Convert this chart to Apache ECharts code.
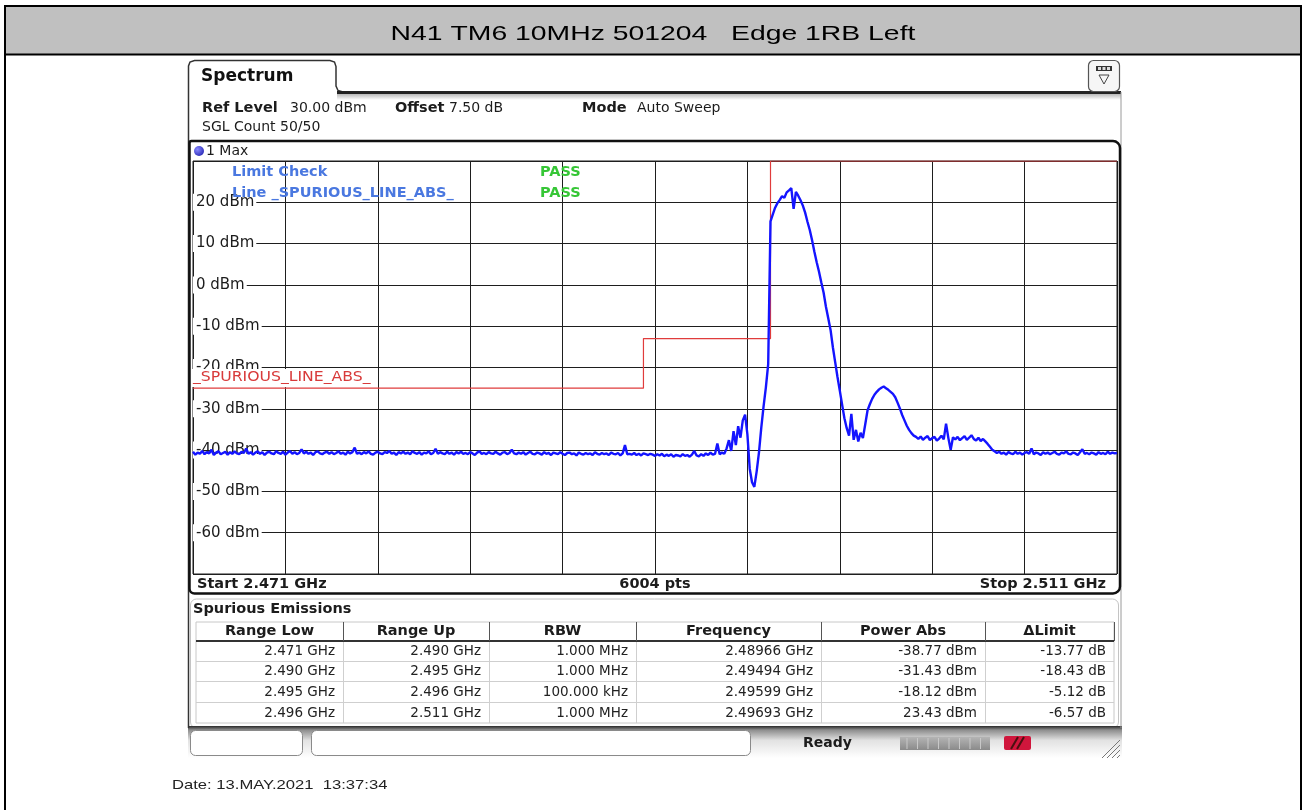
<!DOCTYPE html>
<html><head><meta charset="utf-8">
<script src="https://cdn.jsdelivr.net/npm/echarts@6/dist/echarts.min.js"></script>
<style>html,body{margin:0;padding:0;background:#fff}#c{width:1304px;height:810px}</style>
</head><body><div id="c"></div>
<script>
// ---------------- data ----------------
const titleText = 'N41 TM6 10MHz 501204   Edge 1RB Left';
const freqStartGHz = 2.471;
const freqStopGHz = 2.511;
const traceStepGHz = 0.0001; // sweep point spacing of the sampled trace
const traceLevels = [
-40.4,-41.1,-40.6,-40.9,-40.2,-41.0,-40.5,-40.8,-39.9,-41.2,
-40.6,-40.3,-41.0,-40.7,-40.4,-41.1,-40.5,-40.9,-40.3,-40.8,
-41.0,-40.4,-40.7,-39.6,-40.9,-40.5,-41.1,-40.6,-40.3,-40.9,
-40.5,-41.2,-40.6,-40.4,-40.8,-41.0,-40.3,-40.7,-40.9,-40.4,
-41.1,-40.6,-40.2,-40.9,-40.5,-41.0,-40.7,-39.8,-40.8,-40.4,
-40.9,-40.6,-41.2,-40.5,-40.3,-40.8,-41.0,-40.6,-40.4,-40.9,
-40.5,-41.0,-40.7,-40.3,-40.9,-40.6,-41.1,-40.4,-40.8,-40.5,
-39.4,-40.9,-40.6,-41.0,-40.5,-40.8,-40.3,-40.9,-41.1,-40.6,
-40.4,-40.8,-41.0,-40.5,-40.7,-40.2,-40.9,-40.6,-41.2,-40.5,
-40.8,-40.4,-40.9,-40.6,-41.0,-40.3,-40.7,-40.9,-40.5,-41.1,
-40.6,-40.8,-40.3,-41.0,-40.7,-39.7,-40.9,-40.5,-40.8,-41.0,
-40.4,-40.9,-40.6,-41.1,-40.5,-40.8,-40.4,-40.9,-40.7,-41.0,
-40.5,-40.8,-41.2,-40.6,-40.3,-40.9,-40.7,-41.0,-40.5,-40.8,
-40.9,-40.4,-40.8,-41.1,-40.6,-40.5,-41.0,-40.7,-39.9,-40.8,
-41.0,-40.6,-40.9,-40.5,-41.1,-40.7,-40.4,-40.9,-41.0,-40.6,
-40.8,-41.1,-40.5,-40.9,-40.7,-41.2,-40.6,-40.8,-41.0,-40.5,
-40.9,-41.2,-40.7,-40.6,-41.0,-40.8,-41.3,-40.6,-40.9,-41.1,
-40.7,-41.0,-40.8,-41.2,-40.5,-40.9,-41.1,-40.7,-41.0,-40.8,
-41.2,-40.6,-40.9,-41.0,-40.7,-41.3,-40.8,-38.8,-41.0,-40.9,
-41.1,-40.7,-41.2,-40.9,-41.3,-40.8,-41.0,-41.2,-40.9,-41.1,
-41.4,-41.0,-41.3,-40.9,-41.5,-41.1,-41.4,-41.0,-41.6,-41.2,
-41.3,-41.5,-41.0,-41.4,-41.2,-41.6,-41.1,-40.2,-41.3,-41.5,
-41.0,-41.4,-40.8,-41.2,-40.6,-41.1,-40.9,-38.4,-41.0,-40.6,
-40.9,-39.6,-37.6,-40.2,-35.4,-38.8,-34.2,-37.0,-32.8,-31.4,
-36.2,-44.5,-47.8,-48.9,-45.2,-40.6,-34.6,-29.4,-24.8,-19.2,
15.4,17.1,18.7,19.8,20.6,21.5,21.1,22.4,22.9,23.43,
18.4,22.5,21.6,20.5,19.2,17.5,15.3,13.3,10.8,8.0,
5.5,3.2,0.6,-1.9,-5.3,-8.1,-10.9,-15.1,-18.7,-22.3,
-25.6,-29.0,-32.3,-34.7,-36.5,-31.2,-37.5,-35.1,-37.9,-35.8,
-37.1,-33.8,-30.4,-28.9,-27.6,-26.6,-25.9,-25.3,-24.9,-24.6,
-25.0,-25.4,-25.9,-26.4,-27.2,-28.5,-29.9,-31.5,-32.8,-34.1,
-35.1,-35.9,-36.5,-36.8,-37.3,-36.7,-37.5,-37.0,-36.6,-37.6,
-37.1,-36.8,-37.7,-37.2,-36.5,-37.4,-33.6,-37.1,-39.9,-36.9,
-37.4,-36.8,-37.6,-37.1,-36.6,-37.5,-37.0,-36.4,-37.3,-37.7,
-37.0,-37.8,-37.3,-37.9,-38.5,-39.2,-39.9,-40.3,-40.7,-40.4,
-40.9,-40.6,-41.1,-40.5,-40.8,-41.0,-40.4,-40.9,-40.6,-41.1,
-40.7,-40.5,-40.9,-39.6,-41.0,-40.6,-40.8,-41.2,-40.5,-40.9,
-40.6,-41.0,-40.7,-40.4,-40.9,-41.1,-40.6,-40.8,-40.3,-40.9,
-41.0,-40.6,-40.8,-41.2,-40.5,-39.8,-40.9,-40.7,-41.0,-40.6,
-40.8,-41.1,-40.5,-40.9,-40.7,-41.0,-40.4,-40.9,-40.6,-40.8,
-40.7
];
const limitFreqGHz = [2.471, 2.4905, 2.4905, 2.496, 2.496, 2.511];
const limitLevelDbm = [-25, -25, -13, -13, 30, 30];
const yMinDbm = -70, yMaxDbm = 30, yStepDbm = 10;
const xDivisions = 10;
const tableHeaders = ['Range Low', 'Range Up', 'RBW', 'Frequency', 'Power Abs', '\u0394Limit'];
const rangeLow   = ['2.471 GHz', '2.490 GHz', '2.495 GHz', '2.496 GHz'];
const rangeUp    = ['2.490 GHz', '2.495 GHz', '2.496 GHz', '2.511 GHz'];
const rbw        = ['1.000 MHz', '1.000 MHz', '100.000 kHz', '1.000 MHz'];
const peakFreq   = ['2.48966 GHz', '2.49494 GHz', '2.49599 GHz', '2.49693 GHz'];
const powerAbs   = ['-38.77 dBm', '-31.43 dBm', '-18.12 dBm', '23.43 dBm'];
const deltaLimit = ['-13.77 dB', '-18.43 dB', '-5.12 dB', '-6.57 dB'];
const headerInfo = {refLevel: '30.00 dBm', offset: '7.50 dB', mode: 'Auto Sweep', sgl: 'SGL Count 50/50'};
const pointsLabel = '6004 pts';
const dateText = 'Date: 13.MAY.2021  13:37:34';

// ---------------- rendering ----------------
const chart = echarts.init(document.getElementById('c'), null, {renderer: 'canvas', width: 1304, height: 810});
const FONT = 'DejaVu Sans';
function grad(stops, x2, y2) {
  return {type: 'linear', x: 0, y: 0, x2: x2 || 0, y2: y2 == null ? 1 : y2,
    colorStops: stops.map(s => ({offset: s[0], color: s[1]}))};
}
function txt(text, x, y, o) {
  o = o || {};
  return {type: 'text', z: o.z != null ? o.z : 6, silent: true, x: x, y: y, scaleX: o.sx || 1,
    style: {text: text, x: 0, y: 0, fill: o.color || '#1c1c1c', fontFamily: o.family || FONT,
      fontSize: o.size || 15, fontWeight: o.bold ? 'bold' : 'normal',
      textAlign: o.align || 'left', textVerticalAlign: 'middle'}};
}
function line(x1, y1, x2, y2, color, w, z) {
  return {type: 'line', z: z != null ? z : 5, silent: true, shape: {x1: x1, y1: y1, x2: x2, y2: y2},
    style: {stroke: color, lineWidth: w}};
}
function rect(x, y, w, h, o) {
  o = o || {};
  const st = {fill: o.fill || 'none', lineWidth: o.lw || 1};
  if (o.stroke) st.stroke = o.stroke;
  return {type: 'rect', z: o.z != null ? o.z : 1, silent: true, shape: {x: x, y: y, width: w, height: h, r: o.r || 0}, style: st};
}

const traceData = traceLevels.map((v, i) => [freqStartGHz + i * traceStepGHz, v]);
const limitData = limitFreqGHz.map((f, i) => [f, limitLevelDbm[i]]);

const els = [];
// page frame and title bar
els.push(rect(5, 6, 1296, 48, {fill: '#c0c0c0', z: 0}));
els.push(rect(5, 6, 1296, 820, {stroke: '#000', lw: 2, z: 1}));
els.push(line(5, 54.5, 1301, 54.5, '#000', 2, 1));
els.push(txt(titleText, 653, 34, {family: 'Liberation Sans', size: 21, align: 'center', color: '#000', sx: 1.35}));

// tab and window border
els.push({type: 'polyline', z: 2, silent: true,
  shape: {points: [[188.5, 728], [188.5, 66], [190, 62], [194.5, 60.5], [330, 60.5], [334.5, 62], [336, 66.5], [336, 86], [338, 90.5], [343, 92]]},
  style: {fill: 'none', stroke: '#333', lineWidth: 1.5}});
els.push(rect(337, 91, 784, 3, {fill: '#222', z: 2}));
els.push(rect(337, 94, 784, 6, {fill: grad([[0, '#b8b8b8'], [1, '#ffffff']]), z: 1}));
els.push(line(1121, 92, 1121, 728, '#9a9a9a', 1, 2));
els.push(txt('Spectrum', 201, 77, {size: 17, bold: true, color: '#111'}));
// icon button
els.push(rect(1088.5, 60.5, 31, 31, {r: 5, stroke: '#555', fill: '#f6f6f6', lw: 1.2, z: 2}));
els.push(rect(1096, 66, 16, 5, {fill: '#333', z: 3}));
els.push(rect(1098, 67, 3, 3, {fill: '#ddd', z: 4}));
els.push(rect(1102.5, 67, 3, 3, {fill: '#ddd', z: 4}));
els.push(rect(1107, 67, 3, 3, {fill: '#ddd', z: 4}));
els.push({type: 'polygon', z: 3, silent: true, shape: {points: [[1099, 75], [1109, 75], [1104, 84]]},
  style: {fill: 'none', stroke: '#444', lineWidth: 1}});

// info lines
els.push(txt('Ref Level', 202, 108, {bold: true, size: 14.5}));
els.push(txt(headerInfo.refLevel, 290, 108, {size: 14}));
els.push(txt('Offset', 395, 108, {bold: true, size: 14.5}));
els.push(txt(headerInfo.offset, 449, 108, {size: 14}));
els.push(txt('Mode', 582, 108, {bold: true, size: 14.5}));
els.push(txt(headerInfo.mode, 637, 108, {size: 14}));
els.push(txt(headerInfo.sgl, 202, 127, {size: 14}));

// plot window frame
els.push(rect(189.5, 141, 930.5, 452.5, {r: [2, 7, 7, 5], stroke: '#111', lw: 2.5, z: 3}));
els.push({type: 'circle', z: 6, silent: true, shape: {cx: 199, cy: 151, r: 5},
  style: {fill: {type: 'radial', x: 0.35, y: 0.35, r: 0.8, colorStops: [{offset: 0, color: '#8a8aff'}, {offset: 1, color: '#2020b0'}]}}});
els.push(txt('1 Max', 206, 151, {size: 14}));
els.push(txt('Limit Check', 232, 172, {size: 14.5, bold: true, color: '#4a78e0', z: 10}));
els.push(txt('Line _SPURIOUS_LINE_ABS_', 232, 193, {size: 14.5, bold: true, color: '#4a78e0', z: 10}));
els.push(txt('PASS', 540, 172, {size: 14.5, bold: true, color: '#36c636', z: 10}));
els.push(txt('PASS', 540, 193, {size: 14.5, bold: true, color: '#36c636', z: 10}));
els.push(rect(192, 369, 186, 18, {fill: '#fff', z: 9}));
els.push(txt('_SPURIOUS_LINE_ABS_', 193, 377.5, {size: 14.5, color: '#d83a3a', z: 10, sx: 1.08}));
els.push(txt('Start ' + freqStartGHz.toFixed(3) + ' GHz', 197, 584, {size: 14.5, bold: true}));
els.push(txt(pointsLabel, 655, 584, {size: 14.5, bold: true, align: 'center'}));
els.push(txt('Stop ' + freqStopGHz.toFixed(3) + ' GHz', 1106, 584, {size: 14.5, bold: true, align: 'right'}));

// table
els.push(rect(190.5, 599, 928, 129, {r: 6, stroke: '#c4c4c4', fill: '#fff', lw: 1, z: 1}));
els.push(txt('Spurious Emissions', 193, 609, {size: 14.5, bold: true}));
const colX = [196, 343, 489, 636, 821, 985, 1114];
const rowY = [622, 641, 661, 681, 702, 723];
els.push(rect(196, 622, 918, 101, {stroke: '#c8c8c8', lw: 1, z: 2}));
for (let r = 2; r < rowY.length - 1; r++) els.push(line(196, rowY[r] + 0.5, 1114, rowY[r] + 0.5, '#cfcfcf', 1, 3));
els.push(line(196, rowY[1], 1114, rowY[1], '#333', 2, 4));
for (let c = 1; c < colX.length - 1; c++) {
  els.push(line(colX[c] + 0.5, rowY[0], colX[c] + 0.5, rowY[1], '#555', 1, 4));
  els.push(line(colX[c] + 0.5, rowY[1], colX[c] + 0.5, rowY[5], '#cfcfcf', 1, 3));
}
els.push(line(colX[6] + 0.5, rowY[0], colX[6] + 0.5, rowY[1], '#555', 1, 4));
tableHeaders.forEach((h, c) => els.push(txt(h, (colX[c] + colX[c + 1]) / 2, 631.5, {size: 14.5, bold: true, align: 'center'})));
const tableCols = [rangeLow, rangeUp, rbw, peakFreq, powerAbs, deltaLimit];
tableCols.forEach((col, c) => col.forEach((v, r) => {
  els.push(txt(v, colX[c + 1] - 8, (rowY[r + 1] + rowY[r + 2]) / 2 + 0.5, {size: 13.5, align: 'right', color: '#222'}));
}));

// status bar
els.push(rect(188, 726, 934, 32, {fill: grad([[0, '#2a2a2a'], [0.12, '#8c8c8c'], [0.45, '#e2e2e2'], [1, '#ffffff']]), z: 1}));
els.push(rect(190.5, 730.5, 112, 25, {r: 5, stroke: '#8a8a8a', fill: '#fff', z: 2}));
els.push(rect(311.5, 730.5, 439, 25, {r: 5, stroke: '#8a8a8a', fill: '#fff', z: 2}));
els.push(txt('Ready', 803, 743, {size: 14, bold: true}));
els.push(rect(900, 737, 90, 13, {fill: grad([[0, '#b4b4b4'], [1, '#8a8a8a']]), z: 2}));
for (let k = 0; k < 8; k++) els.push(line(907 + k * 10.5, 738, 907 + k * 10.5, 749, '#c8c8c8', 1, 3));
els.push(rect(1004, 736, 27, 14, {r: 2, fill: '#d0163c', z: 2}));
els.push(line(1011, 749, 1018, 737, '#4a1010', 2, 3));
els.push(line(1017, 749, 1024, 737, '#4a1010', 2, 3));
for (let k = 0; k < 4; k++) els.push(line(1102 + k * 5, 758, 1120, 740 + k * 5, '#777', 1, 3));

els.push(txt(dateText, 172, 785, {family: 'Liberation Sans', size: 13.5, color: '#222', sx: 1.23}));

const option = {
  animation: false,
  backgroundColor: '#ffffff',
  grid: {left: 193, top: 161, width: 924, height: 413, show: true, borderColor: '#1e1e1e', borderWidth: 1, containLabel: false},
  xAxis: [
    {type: 'value', min: freqStartGHz, max: freqStopGHz, show: false},
    {type: 'value', min: 0, max: xDivisions, interval: 1, position: 'bottom',
      axisLine: {show: false}, axisTick: {show: false}, axisLabel: {show: false},
      splitLine: {show: true, lineStyle: {color: '#1e1e1e', width: 1}}}
  ],
  yAxis: {type: 'value', min: yMinDbm, max: yMaxDbm, interval: yStepDbm,
    axisLine: {show: false}, axisTick: {show: false},
    splitLine: {show: true, lineStyle: {color: '#1e1e1e', width: 1}},
    axisLabel: {inside: true, margin: 0, showMinLabel: false, showMaxLabel: false,
      formatter: v => v + ' dBm', color: '#1c1c1c', fontFamily: FONT, fontSize: 15,
      backgroundColor: '#fff', padding: [1, 2, 1, 3]}},
  series: [
    {type: 'line', name: 'Limit', xAxisIndex: 0, data: limitData, showSymbol: false, z: 3,
      lineStyle: {color: '#e03c3c', width: 1.2}, silent: true},
    {type: 'line', name: '1 Max', xAxisIndex: 0, data: traceData, showSymbol: false, z: 4,
      lineStyle: {color: '#1414ff', width: 2.4}, silent: true}
  ],
  graphic: {elements: els}
};
chart.setOption(option);
</script>
</body></html>
